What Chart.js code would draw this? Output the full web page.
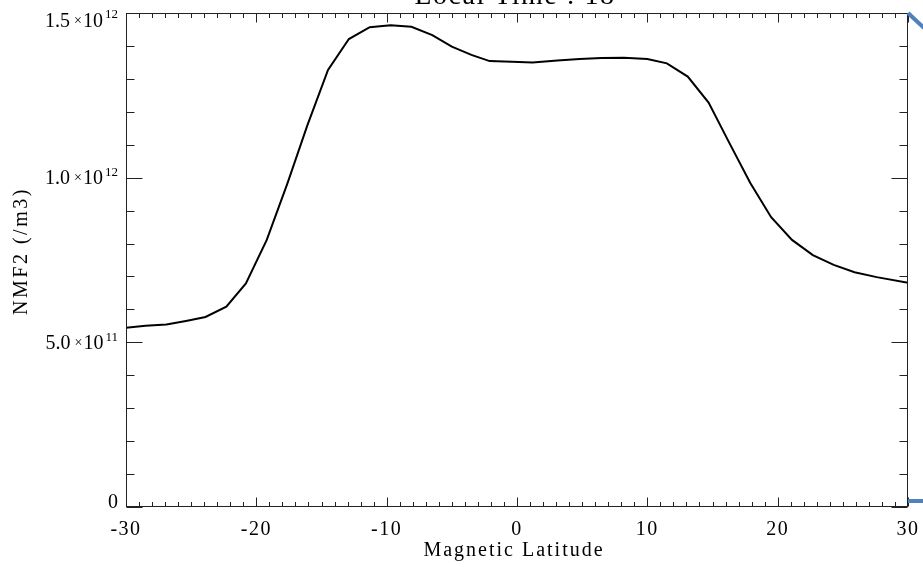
<!DOCTYPE html>
<html>
<head>
<meta charset="utf-8">
<script src="https://cdn.jsdelivr.net/npm/chart.js@4"></script>
<style>
  html, body { margin: 0; padding: 0; background: #fff; }
  #wrap { width: 923px; height: 567px; }
</style>
</head>
<body>
<div id="wrap"><canvas id="nmf2Chart"></canvas></div>
<script>
// magnetic latitude (deg) and NmF2 (/m3)
const latitude = [-30, -28.5, -26.9, -25.4, -23.9, -22.3, -20.8, -19.2, -17.6, -16.1,
    -14.5, -12.9, -11.3, -9.7, -8.1, -6.5, -5.0, -3.5, -2.1, -0.4,
    1.2, 3.1, 4.8, 6.5, 8.2, 10.0, 11.5, 13.1, 14.7, 16.3,
    17.9, 19.5, 21.1, 22.7, 24.3, 25.9, 27.6, 30];
const nmf2 = [5.44e11, 5.50e11, 5.54e11, 5.65e11, 5.77e11, 6.08e11, 6.79e11, 8.11e11, 9.84e11, 1.157e12,
    1.327e12, 1.421e12, 1.457e12, 1.463e12, 1.458e12, 1.433e12, 1.398e12, 1.373e12, 1.354e12, 1.352e12,
    1.350e12, 1.356e12, 1.360e12, 1.363e12, 1.364e12, 1.360e12, 1.347e12, 1.307e12, 1.228e12, 1.105e12,
    9.84e11, 8.80e11, 8.11e11, 7.65e11, 7.35e11, 7.13e11, 6.98e11, 6.81e11];

const xTicks = [-30, -20, -10, 0, 10, 20, 30];
const yTickValues = [0, 5e11, 1e12, 1.5e12];
const yTickMant = ['0', '5.0', '1.0', '1.5'];
const yTickExp = ['', '11', '12', '12'];

const titleText = 'Local Time : 18';
const xTitle = 'Magnetic Latitude';
const yTitle = 'NMF2 (/m3)';

const SERIF = "'Liberation Serif', 'Times New Roman', serif";

const idlFrame = {
    id: 'idlFrame',
    beforeDraw(chart) {
        chart.ctx.letterSpacing = '1.5px';
    },
    afterDraw(chart) {
        const { ctx, chartArea: a, scales: { x, y } } = chart;
        ctx.save();
        ctx.letterSpacing = '0px';
        ctx.strokeStyle = '#222';
        ctx.lineWidth = 1;
        const seg = (x1, y1, x2, y2) => {
            ctx.beginPath(); ctx.moveTo(x1, y1); ctx.lineTo(x2, y2); ctx.stroke();
        };
        const L = Math.round(a.left) + 0.5, R = Math.round(a.right) - 0.5;
        const T = Math.round(a.top) + 0.5, B = Math.round(a.bottom) - 0.5;
        ctx.strokeRect(L, T, R - L, B - T);

        // x ticks, every degree, inward on bottom and top
        for (let v = -30; v <= 30; v++) {
            const px = Math.round(x.getPixelForValue(v)) + 0.5;
            const len = v % 10 === 0 ? 9 : 4.5;
            seg(px, B, px, B - len);
            seg(px, T, px, T + len);
        }
        // y ticks, every 1e11
        for (let i = 0; i <= 15; i++) {
            const py = Math.round(y.getPixelForValue(i * 1e11)) + 0.5;
            const len = i % 5 === 0 ? 16 : 8;
            seg(L, py, L + len, py);
            seg(R, py, R - len, py);
        }

        // y tick labels with exponents
        ctx.fillStyle = '#000';
        ctx.textBaseline = 'alphabetic';
        const rightEdge = a.left - 8;
        yTickValues.forEach((v, i) => {
            let cy = y.getPixelForValue(v);
            cy = Math.min(Math.max(cy, a.top + 7), a.bottom - 6);
            const base = cy + 6.8;
            if (!yTickExp[i]) {
                ctx.font = '20px ' + SERIF;
                ctx.textAlign = 'right';
                ctx.fillText(yTickMant[i], rightEdge, base);
                return;
            }
            ctx.font = '13px ' + SERIF;
            ctx.textAlign = 'right';
            ctx.fillText(yTickExp[i], rightEdge, base - 8.5);
            const expW = ctx.measureText(yTickExp[i]).width;
            ctx.font = '20px ' + SERIF;
            const tenRight = rightEdge - expW - 2;
            ctx.fillText('10', tenRight, base);
            const tenW = ctx.measureText('10').width;
            ctx.font = '14px ' + SERIF;
            ctx.textAlign = 'center';
            ctx.fillText('\u00d7', tenRight - tenW - 5, base - 2);
            ctx.font = '20px ' + SERIF;
            ctx.textAlign = 'right';
            ctx.fillText(yTickMant[i], tenRight - tenW - 13, base);
        });

        // axis titles and (clipped) plot title
        ctx.font = '20px ' + SERIF;
        ctx.letterSpacing = '2px';
        ctx.textAlign = 'center';
        ctx.fillText(xTitle, (a.left + a.right) / 2 - 3, 556);

        ctx.save();
        ctx.translate(27, 251);
        ctx.rotate(-Math.PI / 2);
        ctx.letterSpacing = '2.5px';
        ctx.fillText(yTitle, 0, 0);
        ctx.restore();

        ctx.font = '28px ' + SERIF;
        ctx.letterSpacing = '1.5px';
        ctx.fillText(titleText, (a.left + a.right) / 2 - 2, 4);

        // blue connector lines at the right edge
        ctx.strokeStyle = '#4f81bd';
        ctx.lineWidth = 4;
        ctx.lineCap = 'butt';
        seg(a.right, a.top, 925, a.top + 16);
        seg(a.right, a.bottom - 6, 925, a.bottom - 6);
        ctx.restore();
    }
};

new Chart(document.getElementById('nmf2Chart'), {
    type: 'scatter',
    data: {
        datasets: [{
            label: 'NmF2',
            data: latitude.map((lat, i) => ({ x: lat, y: nmf2[i] })),
            showLine: true,
            borderColor: '#000',
            borderWidth: 2,
            pointRadius: 0,
            tension: 0,
            fill: false
        }]
    },
    options: {
        responsive: true,
        maintainAspectRatio: false,
        animation: false,
        events: [],
        layout: { padding: { top: 13, right: 15, left: 0, bottom: 0 } },
        plugins: {
            legend: { display: false },
            tooltip: { enabled: false },
            title: { display: false }
        },
        scales: {
            x: {
                type: 'linear',
                min: -30,
                max: 30,
                afterBuildTicks: (scale) => { scale.ticks = xTicks.map(v => ({ value: v })); },
                afterFit: (scale) => {
                    scale.height = 60;
                    scale.paddingLeft = 0;
                    scale.paddingRight = 0;
                },
                grid: { display: false, drawTicks: false },
                border: { display: false },
                ticks: {
                    color: '#000',
                    padding: 11,
                    maxRotation: 0,
                    font: { family: SERIF, size: 20 }
                }
            },
            y: {
                type: 'linear',
                min: 0,
                max: 1.5e12,
                afterFit: (scale) => { scale.width = 126; },
                grid: { display: false, drawTicks: false },
                border: { display: false },
                ticks: { display: false }
            }
        }
    },
    plugins: [idlFrame]
});
</script>
</body>
</html>
